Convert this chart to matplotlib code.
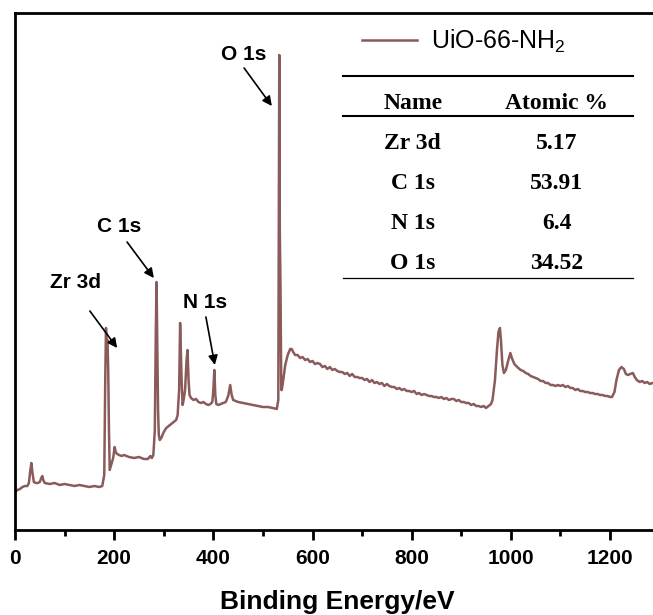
import matplotlib
matplotlib.use("Agg")
import matplotlib.pyplot as plt
from matplotlib.lines import Line2D
from matplotlib.ticker import MultipleLocator

plt.rcParams['font.family'] = ['Liberation Sans', 'DejaVu Sans']
plt.rcParams['mathtext.default'] = 'regular'

# ---- data (binding energy in eV, intensity in arbitrary units) ----
energy = [0, 5, 10, 15, 20, 25, 28, 31, 33, 35, 38, 42, 46, 50, 53, 55, 57, 60, 70, 80, 90,
          100, 110, 120, 130, 140, 150, 160, 170, 176, 180, 182, 183.5, 185, 186.5, 188, 189.5,
          191, 194, 198, 201, 203, 206, 210, 215, 220, 230, 240, 250, 260, 268, 273, 276, 279,
          282, 284, 285.5, 287, 288.5, 290, 292, 295, 300, 305, 310, 315, 320, 325, 328, 331,
          333, 336, 338, 340, 343, 346, 348, 350, 352, 355, 360, 365, 370, 375, 380, 385, 390,
          394, 398, 400, 402, 404, 406, 410, 415, 420, 425, 430, 434, 437, 440, 445, 450, 460,
          470, 480, 490, 500, 510, 520, 528, 531, 532, 533, 534, 535.5, 537, 538, 541, 545,
          550, 555, 558, 561, 565, 570, 575, 580, 585, 590, 595, 600, 605, 610, 615, 620, 625,
          630, 635, 640, 645, 650, 655, 660, 665, 670, 675, 680, 685, 690, 695, 700, 705, 710,
          715, 720, 725, 730, 735, 740, 745, 750, 755, 760, 765, 770, 775, 780, 785, 790, 795,
          800, 805, 810, 815, 820, 825, 830, 835, 840, 845, 850, 855, 860, 865, 870, 875, 880,
          885, 890, 895, 900, 905, 910, 915, 920, 925, 930, 935, 940, 945, 950, 955, 960, 963,
          968, 972, 975, 978, 980, 983, 986, 990, 995, 999, 1002, 1007, 1015, 1020, 1025, 1030,
          1035, 1040, 1045, 1050, 1055, 1060, 1065, 1070, 1075, 1080, 1085, 1090, 1095, 1100,
          1105, 1110, 1115, 1120, 1125, 1130, 1135, 1140, 1145, 1150, 1155, 1160, 1165, 1170,
          1175, 1180, 1185, 1190, 1195, 1200, 1204, 1209, 1213, 1218, 1223, 1228, 1232, 1236,
          1241, 1246, 1250, 1254, 1260, 1265, 1270, 1275, 1280, 1285, 1290, 1295, 1300]
intensity = [38, 40, 41, 43, 44, 44, 47, 60, 67, 58, 48, 47, 47, 48, 52, 54, 50, 47, 46, 47, 45,
             46, 45, 44, 45, 44, 43, 44, 43, 44, 55, 150, 202, 185, 190, 160, 100,
             60, 65, 72, 83, 78, 76, 75, 74, 75, 73, 72, 73, 71, 71, 74, 72, 75,
             100, 200, 248, 180, 120, 95, 90, 92, 98, 102, 104, 106, 108, 110, 115, 140,
             207, 150, 125, 130, 140, 170, 180, 150, 135, 132, 130, 131, 128, 127, 128, 126, 125,
             126, 128, 140, 160, 135, 126, 125, 126, 127, 128, 134, 145, 135, 130, 129, 128, 127,
             126, 125, 124, 123, 123, 122, 121, 130, 300, 475, 302, 240, 140, 140, 150, 165,
             175, 181, 181, 178, 175, 175, 172, 173, 170, 171, 168, 169, 166, 167, 166, 163, 164,
             161, 163, 160, 161, 159, 158, 158, 156, 157, 154, 156, 153, 153, 152, 152, 150, 151,
             148, 150, 147, 148, 146, 147, 144, 146, 144, 143, 143, 141, 142, 140, 141, 139, 139,
             138, 139, 136, 137, 135, 136, 135, 134, 134, 133, 133, 132, 133, 131, 132, 130, 131,
             131, 129, 130, 128, 128, 127, 127, 125, 126, 124, 124, 123, 124, 122, 124, 126, 130,
             150, 180, 198, 202, 190, 165, 157, 160, 170, 177, 172, 166, 162, 160, 159, 157,
             156, 154, 153, 152, 151, 149, 149, 147, 147, 145, 145, 144, 145, 144,
             145, 143, 144, 142, 142, 140, 141, 139, 139, 138, 138, 137, 137, 136,
             136, 135, 135, 134, 134, 133, 133, 138, 150, 160, 163, 161, 156, 155,
             156, 157, 153, 150, 148, 149, 147, 148, 146, 147, 146, 146, 145]

series_label = 'UiO-66-NH$_2$'
xticks = [0, 200, 400, 600, 800, 1000, 1200]

peak_names = ['Zr 3d', 'C 1s', 'N 1s', 'O 1s']
peak_text_xy = [(122, 248), (211, 303), (384, 228), (461, 475)]
arrow_tail = [(151, 219), (226, 288), (385, 213), (462, 462)]
arrow_tip = [(206, 182), (280, 252), (403, 165), (518, 424)]

table_header = ['Name', 'Atomic %']
table_names = ['Zr 3d', 'C 1s', 'N 1s', 'O 1s']
table_values = ['5.17', '53.91', '6.4', '34.52']

W, H = 653, 615
fig = plt.figure(figsize=(W / 100, H / 100), dpi=100)
ax = fig.add_axes([15 / W, (H - 530) / H, 644.6 / W, 517 / H])

line_color = '#8b5a5a'
ax.plot(energy, intensity, color=line_color, lw=1.8, label=series_label)
ax.set_xlim(0, 1300)
ax.set_ylim(0, 517)
ax.set_xticks(xticks)
ax.xaxis.set_minor_locator(MultipleLocator(100))
ax.set_yticks([])
for s in ax.spines.values():
    s.set_linewidth(2.0)
ax.tick_params(axis='x', which='major', direction='out', length=7.5, width=2.0,
               labelsize=15, pad=6)
ax.tick_params(axis='x', which='minor', direction='out', length=4, width=2.0)
for lab in ax.get_xticklabels():
    lab.set_fontweight('bold')
ax.set_xlabel('Binding Energy/eV', fontsize=19, fontweight='bold', labelpad=16)

for name, txy, tail, tip in zip(peak_names, peak_text_xy, arrow_tail, arrow_tip):
    ax.text(txy[0], txy[1], name, fontsize=15, fontweight='bold', ha='center', va='center')
    ax.annotate('', xy=tip, xytext=tail,
                arrowprops=dict(arrowstyle='-|>', color='black', lw=1.2,
                                mutation_scale=14, shrinkA=0, shrinkB=0))

leg = ax.legend(loc='upper left', bbox_to_anchor=(362 / W, 1 - 28 / H),
                bbox_transform=fig.transFigure, frameon=False, fontsize=18,
                handlelength=2.2, handletextpad=0.55, borderpad=0, borderaxespad=0)

def fx(px):
    return px / W

def fy(py):
    return 1 - py / H

for y, lw in [(75.7, 1.5), (115.7, 1.5), (278.3, 0.9)]:
    fig.add_artist(Line2D([fx(343), fx(633)], [fy(y), fy(y)], color='black', lw=lw))

serif = ['Liberation Serif', 'DejaVu Serif']
col_x = [412.7, 556.7]
fig.text(fx(col_x[0]), fy(103.3), table_header[0], family=serif, fontsize=17,
         fontweight='bold', ha='center', va='center')
fig.text(fx(col_x[1]), fy(103.3), table_header[1], family=serif, fontsize=17,
         fontweight='bold', ha='center', va='center')
row_y = [143.3, 183.3, 223.3, 264.0]
for n, v, ry in zip(table_names, table_values, row_y):
    fig.text(fx(col_x[0]), fy(ry), n, family=serif, fontsize=17, fontweight='bold',
             ha='center', va='center')
    fig.text(fx(col_x[1]), fy(ry), v, family=serif, fontsize=17, fontweight='bold',
             ha='center', va='center')

fig.savefig('out.png', dpi=100)
